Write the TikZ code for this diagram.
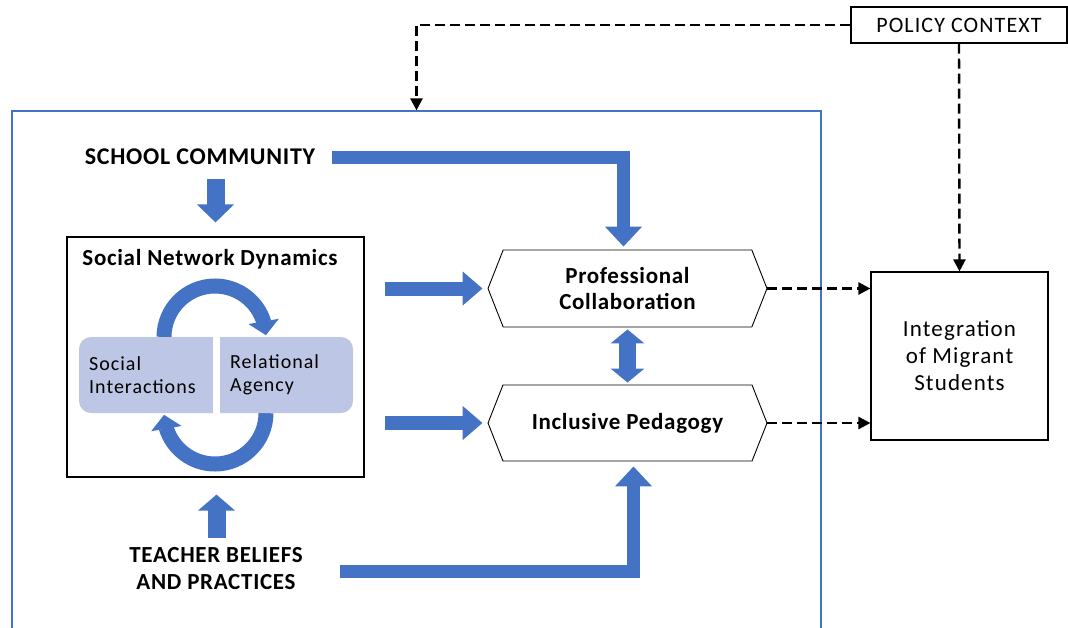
\documentclass[tikz,border=0pt]{standalone}
\usepackage{fontspec}
\setmainfont{Carlito}
\newfontfamily\headfont[LetterSpace=3]{Carlito}
\newfontfamily\bodyfont[LetterSpace=5]{Carlito}
\usepackage{tikz}
\usetikzlibrary{arrows.meta,%
		bending,%
		calc,%
		shapes.symbols}

\definecolor{arrowblue}{RGB}{68,114,196}
\definecolor{pillblue}{RGB}{189,199,229}

\tikzset{
  blockarrow/.style={draw=arrowblue,line width=14pt,-{Triangle[width=36pt,length=20pt]}},
  cyclearrow/.style={draw=arrowblue,line width=15pt,-{Triangle[width=30pt,length=14pt]}},
  dasharrow/.style={draw=black,line width=2.4pt,dash pattern=on 10pt off 5pt,-{Triangle[width=12pt,length=12pt]}},
  plainbox/.style={draw=black,line width=1.1pt,inner sep=0pt,align=center},
  hexbox/.style={signal,signal to=east and west,signal pointer angle=137,draw=black,line width=0.9pt,
    minimum width=279pt,minimum height=77pt,inner sep=0pt,align=center,font=\headfont\bfseries\fontsize{23}{26}\selectfont},
  label/.style={inner sep=0pt,align=center}
}

\begin{document}
\begin{tikzpicture}[x=1pt,y=1pt]

  \useasboundingbox (0,0) rectangle (1068,-627);

  \node[draw=arrowblue,line width=1.2pt,minimum width=809pt,minimum height=530pt] (school) at (416.5,-376) {};

  \node[plainbox,minimum width=216pt,minimum height=36pt,font=\bodyfont\fontsize{22}{24}\selectfont] (policy) at (959,-25) {POLICY CONTEXT};
  \node[plainbox,minimum width=177pt,minimum height=168pt,font=\bodyfont\fontsize{23}{27}\selectfont] (integ) at (959.5,-356) {Integration\\of Migrant\\Students};

  \node[label,font=\headfont\bfseries\fontsize{24}{27}\selectfont] (sc) at (200,-157) {SCHOOL COMMUNITY};
  \node[label,font=\headfont\bfseries\fontsize{23}{27}\selectfont] (tb) at (216,-569) {TEACHER BELIEFS\\AND PRACTICES};

  \node[plainbox,minimum width=297pt,minimum height=240pt] (snd) at (215.5,-357) {};
  \node[label,font=\headfont\bfseries\fontsize{23}{26}\selectfont] (title) at (210,-259) {Social Network Dynamics};

  \draw[cyclearrow] (164,-337) arc[start angle=180,end angle=2,radius=51];
  \draw[cyclearrow] (266,-413) arc[start angle=0,end angle=-178,radius=51];

  \node[fill=pillblue,rounded corners=12pt,minimum width=274pt,minimum height=76pt] (pills) at (216,-375) {};
  \draw[white,line width=7pt] (pills.north) -- (pills.south);
  \node[label,align=left,anchor=west,font=\bodyfont\fontsize{20}{23}\selectfont] (si) at (89,-375) {Social\\Interactions};
  \node[label,align=left,anchor=west,font=\bodyfont\fontsize{20}{23}\selectfont] (ra) at (230,-375) {Relational\\Agency};

  \node[hexbox] (pc) at (627.5,-288.5) {Professional\\Collaboration};
  \node[hexbox,minimum height=76pt] (ip) at (627.5,-423) {Inclusive Pedagogy};

  \draw[blockarrow,line width=18pt,-{Triangle[width=36pt,length=18pt]}] ([yshift=57pt]snd.north) -- ([yshift=14pt]snd.north);
  \draw[blockarrow,line width=18pt,-{Triangle[width=36pt,length=16pt]}] ([xshift=1pt,yshift=-60pt]snd.south) -- ([xshift=1pt,yshift=-17pt]snd.south);
  \draw[blockarrow,line width=13pt] ([xshift=17pt]sc.east) -| ([xshift=-4pt,yshift=3pt]pc.north);
  \draw[blockarrow,line width=13pt] ([xshift=37pt,yshift=-2pt]tb.east) -| ([xshift=6pt,yshift=-5pt]ip.south);
  \draw[blockarrow,-{Triangle[width=33pt,length=20pt]}] ([xshift=-103pt]pc.west) -- ([xshift=-5pt]pc.west);
  \draw[blockarrow,-{Triangle[width=33pt,length=20pt]}] ([xshift=-103pt]ip.west) -- ([xshift=-5pt]ip.west);
  \draw[blockarrow,line width=17pt,{Triangle[width=33pt,length=14pt]}-{Triangle[width=33pt,length=14pt]}] ([yshift=-2pt]pc.south) -- ([yshift=2pt]ip.north);

  \draw[dasharrow] (policy.west) -| (school.north);
  \draw[dasharrow] (policy.south) -- (integ.north);
  \draw[dasharrow] (pc.east) -- (pc.east -| integ.west);
  \draw[dasharrow] (ip.east) -- (ip.east -| integ.west);

\end{tikzpicture}
\end{document}
